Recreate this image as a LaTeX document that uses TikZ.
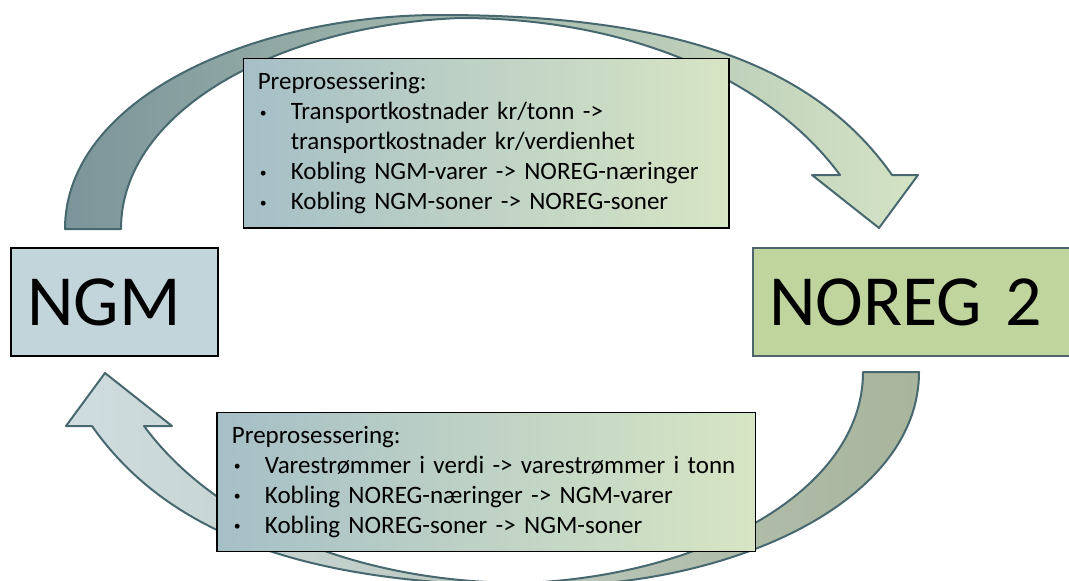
\documentclass[tikz,border=0pt]{standalone}
\usepackage{fontspec}
\setmainfont{Carlito}

\definecolor{ngmblue}{HTML}{C2D5DA}
\definecolor{noreggreen}{HTML}{BFD59D}
\definecolor{noregedge}{HTML}{4E636B}
\definecolor{arrowedge}{HTML}{47686F}
\definecolor{boxleft}{HTML}{A6BFC6}
\definecolor{boxright}{HTML}{D7E5C4}
\definecolor{topdark}{HTML}{7B959A}
\definecolor{toplight}{HTML}{D4E3C5}
\definecolor{botlight}{HTML}{CFDDE1}
\definecolor{botdark}{HTML}{A8B49B}

\newcommand{\bul}{\makebox[33pt][l]{\hspace{2pt}\raisebox{2.5pt}{\scalebox{0.55}{\textbullet}}}}

\begin{document}
\begin{tikzpicture}[x=1pt,y=-1pt,
	flow arrow/.style={draw=arrowedge,line width=2pt,line join=round},
	model node/.style={rectangle,line width=2pt,minimum height=108pt,inner xsep=16pt,align=left,font=\fontsize{72}{86}\selectfont},
	prep box/.style={rectangle,draw=black,line width=1.3pt,align=left,font=\fontsize{25}{30}\selectfont,left color=boxleft,right color=boxright}]
	
	\useasboundingbox (0,0) rectangle (1069,581);
	
	% the two bent arrows, the lower one is the upper one turned round
	\foreach \turn/\lcol/\rcol in {0/topdark/toplight,180/botlight/botdark}
	{
		\draw[flow arrow,left color=\lcol,right color=\rcol,rotate around={\turn:(492,300.5)}]
		(65,229) .. controls (65,100) and (250,15) .. (440,15)
		.. controls (660,15) and (810,58) .. (892,175)
		-- (918,175) -- (879,228) -- (812,175) -- (840,175)
		.. controls (770,80) and (630,18) .. (460,18)
		.. controls (280,25) and (121,110) .. (121,229)
		-- cycle;
	}
	
	\node[model node,draw=black,fill=ngmblue,text width=174.6pt] (ngm) at (114.7,302) {NGM};
	\node[model node,draw=noregedge,fill=noreggreen,text width=295pt] (noreg) at (916.5,302) {NOREG 2};
	
	\node[prep box,inner xsep=14pt,text width=457.2pt,minimum height=169.3pt] (prepTop) at (486.4,143.4)
	{Preprosessering:\\
	\bul Transportkostnader kr/tonn ->\\
	\hspace*{33pt}transportkostnader kr/verdienhet\\
	\bul Kobling NGM-varer -> NOREG-næringer\\
	\bul Kobling NGM-soner -> NOREG-soner};
	
	\node[prep box,inner xsep=15pt,text width=508.5pt,minimum height=139.4pt] (prepBottom) at (486.2,482)
	{Preprosessering:\\
	\bul Varestrømmer i verdi -> varestrømmer i tonn\\
	\bul Kobling NOREG-næringer -> NGM-varer\\
	\bul Kobling NOREG-soner -> NGM-soner};
	
\end{tikzpicture}
\end{document}
